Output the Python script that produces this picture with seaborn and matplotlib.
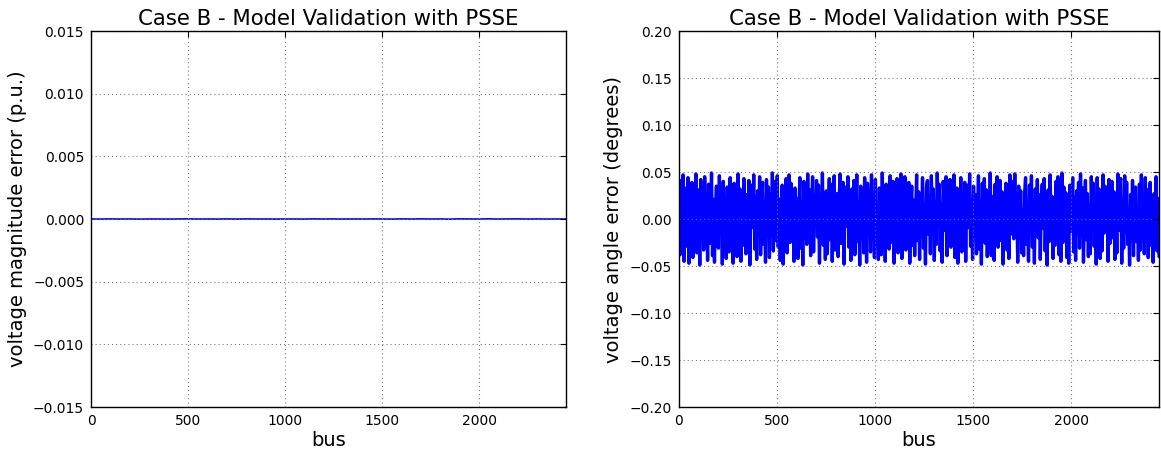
import numpy as np
import matplotlib
matplotlib.use("Agg")
import matplotlib.pyplot as plt
import matplotlib.ticker as mticker
import seaborn as sns

# number of buses in Case B
N_BUS = 2446

angle_err_mdeg = [
    12, -38, 41, -22, 47, -45, 8, 33, -29, 44,
    -47, 19, -3, 39, -41, 25, -17, 48, -36, 6,
    31, -49, 42, -12, 27, -33, 45, -8, 15, -44,
    37, -26, 3, 49, -39, 21, -46, 11, 35, -19,
    -31, 46, -7, 28, -48, 40, -15, 23, -42, 34,
    9, -35, 44, -24, 17, -47, 38, -2, 29, -40,
    48, -13, 32, -45, 20, -28, 43, 5, -37, 26,
    -21, 41, -49, 14, 36, -9, 47, -32, 24, -43,
    30, -16, 45, -38, 7, 39, -27, 18, -46, 42,
    -5, 34, -41, 27, -18, 49, -34, 12, 40, -23,
    46, -30, 21, -44, 3, 36, -48, 25, -11, 43,
    -36, 16, 47, -25, 38, -7, 29, -45, 33, -14,
    22, -42, 8, 44, -31, 19, -49, 40, -20, 35,
    -27, 48, -10, 31, -39, 13, 45, -35, 26, -4,
    41, -19, 36, -47, 24, -2, 49, -28, 15, -43,
    30, -37, 6, 43, -22, 37, -45, 10, 46, -33,
    -12, 27, -40, 20, 48, -26, 4, 39, -48, 17,
    34, -8, 45, -30, 23, -44, 32, -15, 41, -38,
    -1, 47, -24, 11, -49, 35, -18, 28, -36, 44,
    19, -46, 38, -6, 30, -35, 47, -21, 9, -41,
    42, -29, 14, -43, 33, 2, -38, 49, -17, 25,
    -45, 37, -11, 22, -32, 46, -25, 7, 40, -47,
    28, -3, 43, -36, 16, -20, 48, -42, 31, -9,
    45, -33, 26, -14, 39, -47, 12, 35, -28, 20,
    -39, 8, 47, -23, 29, -43, 21, -5, 44, -31,
    13, -48, 34, 41, -16, 24, -37, 46, -10, 32,
    -44, 18, -27, 49, -1, 37, -34, 15, -46, 40,
    23, -12, 45, -39, 10, -24, 42, -30, 27, -6,
    47, -41, 3, 33, -47, 28, -19, 44, -35, 11,
    -22, 39, -45, 17, 36, -9, 48, -29, 21, -43,
    35, -15, 26, -37, 4, 46, -32, 13, -48, 38,
    -7, 43, -26, 31, -40, 19, -13, 49, -39, 24,
    16, -44, 37, -18, 45, -30, 6, 41, -23, 29,
    -48, 25, -4, 38, -33, 14, -42, 47, -16, 33,
    40, -21, 48, -11, 22, -46, 35, -3, 30, -36,
    10, -39, 27, 44, -27, 8, -45, 36, -14, 46,
    -30, 20, -47, 32, -8, 42, -20, 26, -43, 15,
    37, -10, 43, -34, 18, -49, 31, -24, 47, -2,
    24, -42, 12, -28, 40, -16, 45, -38, 7, -45,
    49, -25, 34, -6, 28, -41, 19, -47, 36, -13,
    5, 44, -35, 23, -44, 30, -11, 39, -31, 48,
    -18, 33, -46, 9, 41, -22, 27, -40, 16, -37,
    45, -5, 38, -29, 13, -48, 44, -19, 32, -42,
    21, -34, 47, -15, 35, -3, 24, -45, 42, -26,
    -9, 40, -20, 29, -43, 17, -36, 48, -12, 36,
    43, -47, 15, -31, 46, -14, 39, -27, 6, -49,
    26, -8, 41, -39, 20, 34, -24, 11, -44, 37,
    -33, 47, -17, 25, -37, 44, -6, 31, -41, 18,
    39, -28, 9, -46, 27, -18, 45, -34, 22, -40,
]

# voltage magnitude error per sampled bus, in micro p.u. (essentially zero)
mag_err_upu = [
    3, -5, 8, -2, 6, -9, 4, 1, -7, 5, 10, -3, 2, -6, 7, -4, 9, -1, 3, -8,
    5, 0, -5, 11, -2, 6, -7, 4, -3, 8, 2, -6, 9, -4, 13, -1, 5, -9, 12, 3,
    -2, 15, -5, 7, 10, -3, 6, -4, 2, -1,
]

TITLE = "Case B - Model Validation with PSSE"

angle_err = np.array(angle_err_mdeg) / 1000.0
mag_err = np.array(mag_err_upu) / 1e6
angle_bus = np.linspace(1, N_BUS, len(angle_err))
mag_bus = np.linspace(1, N_BUS, len(mag_err))

sns.set_style("white")
plt.rcParams["font.family"] = ["DejaVu Sans"]
plt.rcParams["text.color"] = "black"
plt.rcParams["axes.labelcolor"] = "black"
plt.rcParams["lines.scale_dashes"] = False

fig = plt.figure(figsize=(11.61, 4.53), dpi=100)
ax1 = fig.add_axes([0.0784, 0.1015, 0.4091, 0.830])
ax2 = fig.add_axes([0.5848, 0.1015, 0.4135, 0.830])


def minus_fmt(decimals):
    def f(v, pos):
        v = round(v, decimals)
        if v == 0:
            v = 0.0
        return f"{v:.{decimals}f}".replace("-", "\u2212")
    return mticker.FuncFormatter(f)


def style_axes(ax, ylim, yticks, ylabel, decimals):
    ax.set_xlim(0, N_BUS)
    ax.set_ylim(*ylim)
    ax.set_xticks([0, 500, 1000, 1500, 2000])
    ax.set_yticks(yticks)
    ax.yaxis.set_major_formatter(minus_fmt(decimals))
    ax.set_axisbelow(False)
    ax.grid(True, color="0.45", linestyle=(0, (0.75, 2.2)), linewidth=0.8)
    for s in ax.spines.values():
        s.set_visible(True)
        s.set_color("black")
        s.set_linewidth(1.0)
        s.set_zorder(5)
    ax.tick_params(direction="in", length=4, width=0.8, top=True, right=True,
                   labelsize=10, colors="black", pad=5)
    ax.set_title(TITLE, fontsize=15.3, pad=4)
    ax.set_xlabel("bus", fontsize=14, labelpad=2)
    ax.set_ylabel(ylabel, fontsize=14, labelpad=4.5)


sns.lineplot(x=mag_bus, y=mag_err, ax=ax1, color="blue", linewidth=1.2,
             estimator=None)
style_axes(ax1, (-0.015, 0.015), [-0.015, -0.01, -0.005, 0, 0.005, 0.01, 0.015],
           "voltage magnitude error (p.u.)", 3)

sns.lineplot(x=angle_bus, y=angle_err, ax=ax2, color="blue", linewidth=2.4,
             estimator=None)
style_axes(ax2, (-0.2, 0.2), [-0.2, -0.15, -0.1, -0.05, 0, 0.05, 0.1, 0.15, 0.2],
           "voltage angle error (degrees)", 2)

fig.savefig("out.png", dpi=100, facecolor="white")
